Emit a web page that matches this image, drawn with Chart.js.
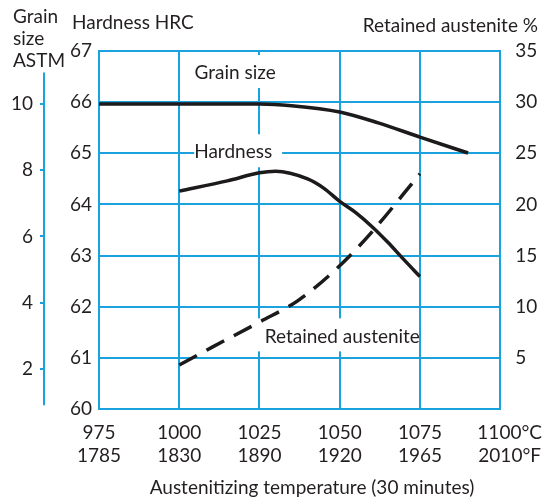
<!DOCTYPE html>
<html>
<head>
<meta charset="utf-8">
<script src="https://cdn.jsdelivr.net/npm/chart.js@4.4.0/dist/chart.umd.min.js"></script>
<style>
  html, body { margin: 0; padding: 0; background: #fff; }
  #wrap { width: 554px; height: 502px; }
</style>
</head>
<body>
<div id="wrap"><canvas id="chart" width="554" height="502"></canvas></div>
<script>
// Axis ticks
const tempC = [975, 1000, 1025, 1050, 1075, 1100];
const tempF = [1785, 1830, 1890, 1920, 1965, 2010];
const hrcTicks = [60, 61, 62, 63, 64, 65, 66, 67];
const austTicks = [5, 10, 15, 20, 25, 30, 35];
const grainTicks = [2, 4, 6, 8, 10];

// Grain size (ASTM) vs temperature
const grainTemps = [975, 1000, 1025, 1035, 1050, 1062, 1075, 1090];
const grainValues = [10, 10, 10, 9.95, 9.76, 9.43, 9.0, 8.52];

// Hardness (HRC) vs temperature
const hardTemps = [1000, 1015, 1025, 1030, 1040, 1045, 1050, 1055, 1060, 1065, 1070, 1075];
const hardValues = [64.26, 64.46, 64.62, 64.65, 64.5, 64.32, 64.06, 63.84, 63.57, 63.26, 62.92, 62.59];

// Retained austenite (%) vs temperature
const austTemps = [1000, 1010, 1025, 1037, 1050, 1060, 1075];
const austValues = [4.3, 6.0, 8.5, 10.6, 14.0, 17.3, 23.0];

const BLUE = '#1aa2de';
const INK = '#231f20';
const FONT = 'Lato, "Open Sans", sans-serif';
const FSIZE = 19;
const tickFont = { family: FONT, size: FSIZE };

const toPoints = (xs, ys) => xs.map((x, i) => ({ x: x, y: ys[i] }));

// curve labels, placed in data coords (temperature, HRC)
const curveLabels = [
  { text: 'Grain size', x: 1017.4, y: 66.57, padL: 4, padR: 4 },
  { text: 'Hardness', x: 1016.8, y: 65.02, padL: 0, padR: 10 },
  { text: 'Retained austenite', x: 1050.8, y: 61.42, padL: 8, padR: -4 }
];

const decorPlugin = {
  id: 'decor',
  beforeDatasetsDraw(chart) {
    const ctx = chart.ctx;
    const xs = chart.scales.x, ys = chart.scales.hrc;
    ctx.save();
    ctx.font = FSIZE + 'px ' + FONT;
    ctx.textBaseline = 'middle';
    ctx.textAlign = 'center';
    curveLabels.forEach(l => {
      const cx = xs.getPixelForValue(l.x);
      const cy = ys.getPixelForValue(l.y);
      const w = ctx.measureText(l.text).width;
      ctx.fillStyle = '#fff';
      ctx.fillRect(cx - w / 2 - l.padL, cy - 18, w + l.padL + l.padR, 33);
      ctx.fillStyle = INK;
      ctx.fillText(l.text, cx, cy);
    });
    ctx.restore();
  },
  afterDraw(chart) {
    const ctx = chart.ctx;
    const g = chart.scales.grain;
    ctx.save();
    // short grain-size axis line
    ctx.strokeStyle = BLUE;
    ctx.lineWidth = 2;
    ctx.beginPath();
    ctx.moveTo(g.right - 1, g.getPixelForValue(10.95));
    ctx.lineTo(g.right - 1, g.getPixelForValue(0.9));
    ctx.stroke();

    ctx.fillStyle = INK;
    ctx.font = FSIZE + 'px ' + FONT;
    ctx.textBaseline = 'alphabetic';
    ctx.textAlign = 'left';
    ctx.fillText('Grain', 13, 23);
    ctx.fillText('size', 13, 45);
    ctx.fillText('ASTM', 13, 67);
    ctx.fillText('Hardness HRC', 72, 29);
    ctx.textAlign = 'right';
    ctx.fillText('Retained austenite %', 538, 32);
    ctx.textAlign = 'center';
    ctx.textBaseline = 'middle';
    ctx.fillText('Austenitizing temperature (30 minutes)', 312, 488);
    ctx.restore();
  }
};

const lineStyle = {
  borderColor: '#1c1a1a',
  borderWidth: 3.5,
  pointRadius: 0,
  fill: false,
  cubicInterpolationMode: 'monotone'
};

new Chart(document.getElementById('chart').getContext('2d'), {
  type: 'line',
  data: {
    datasets: [
      Object.assign({ label: 'Grain size', data: toPoints(grainTemps, grainValues), yAxisID: 'grain' }, lineStyle),
      Object.assign({ label: 'Hardness', data: toPoints(hardTemps, hardValues), yAxisID: 'hrc' }, lineStyle),
      Object.assign({ label: 'Retained austenite', data: toPoints(austTemps, austValues), yAxisID: 'aust', borderDash: [20, 11] }, lineStyle)
    ]
  },
  options: {
    responsive: false,
    animation: false,
    devicePixelRatio: 1,
    layout: { padding: { top: 51, left: 0, right: 0, bottom: 0 } },
    plugins: { legend: { display: false }, tooltip: { enabled: false } },
    scales: {
      x: {
        type: 'linear',
        min: 975,
        max: 1100,
        afterBuildTicks: s => { s.ticks = tempC.map(v => ({ value: v })); },
        afterFit: s => { s.height = 93; },
        grid: { color: BLUE, lineWidth: 2, drawTicks: false },
        border: { color: BLUE, width: 2 },
        ticks: {
          padding: 12,
          color: INK,
          maxRotation: 0,
          minRotation: 0,
          autoSkip: false,
          font: Object.assign({ lineHeight: 1.22 }, tickFont),
          callback: v => {
            const i = tempC.indexOf(v);
            if (i === tempC.length - 1) return ['\u2002\u2002' + v + '°C', '\u2002\u2002' + tempF[i] + '°F'];
            return [String(v), String(tempF[i])];
          }
        }
      },
      hrc: {
        position: 'left',
        weight: 0,
        min: 60,
        max: 67,
        afterBuildTicks: s => { s.ticks = hrcTicks.map(v => ({ value: v })); },
        afterFit: s => { s.width = 54; },
        grid: { color: BLUE, lineWidth: 2, drawTicks: false },
        border: { color: BLUE, width: 2 },
        ticks: { padding: 7, color: INK, font: tickFont }
      },
      grain: {
        position: 'left',
        weight: 1,
        min: 0.79,
        max: 11.6,
        afterBuildTicks: s => { s.ticks = grainTicks.map(v => ({ value: v })); },
        afterFit: s => { s.width = 45; },
        grid: { drawOnChartArea: false, drawTicks: true, tickLength: 5, color: BLUE, lineWidth: 2 },
        border: { display: false },
        ticks: { padding: 7, color: INK, font: tickFont }
      },
      aust: {
        position: 'right',
        min: 0,
        max: 35,
        afterBuildTicks: s => { s.ticks = austTicks.map(v => ({ value: v })); },
        afterFit: s => { s.width = 51; },
        grid: { display: false, drawTicks: false },
        border: { color: BLUE, width: 2 },
        ticks: { padding: 15, color: INK, font: tickFont }
      }
    }
  },
  plugins: [decorPlugin]
});
</script>
</body>
</html>
